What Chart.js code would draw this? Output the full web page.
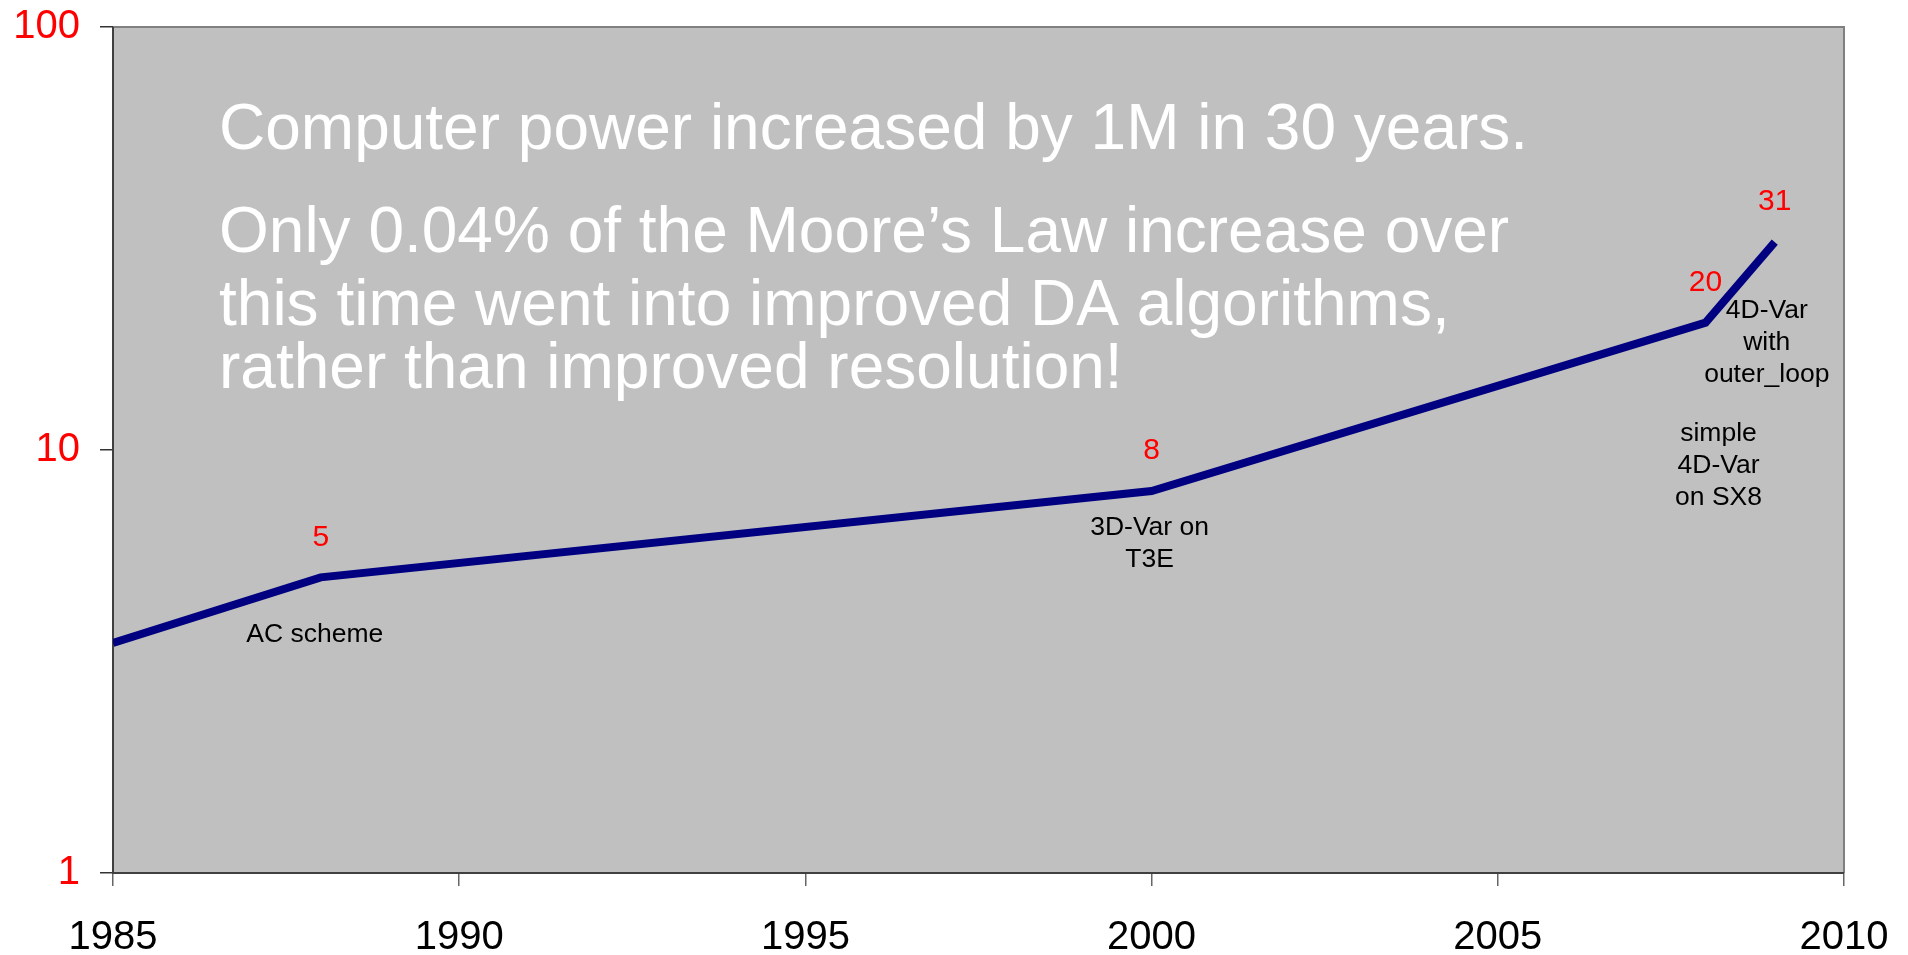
<!DOCTYPE html>
<html>
<head>
<meta charset="utf-8">
<script src="https://cdn.jsdelivr.net/npm/chart.js@4"></script>
<style>
  html, body { margin: 0; padding: 0; background: #fff; }
  canvas { display: block; }
</style>
</head>
<body>
<canvas id="chart" width="1908" height="955"></canvas>
<script>
const years = [1985, 1988, 2000, 2008, 2009]
const speedup = [3.5, 5, 8, 20, 31]
const xTicks = [1985, 1990, 1995, 2000, 2005, 2010]
const yTicks = [1, 10, 100]
const valueLabels = ['', '5', '8', '20', '31']
const pointNotes = [
  [],
  ['AC scheme'],
  ['3D-Var on', 'T3E'],
  ['simple', '4D-Var', 'on SX8'],
  ['4D-Var', 'with', 'outer_loop'],
]
const headline = [
  'Computer power increased by 1M in 30 years.',
  'Only 0.04% of the Moore\u2019s Law increase over',
  'this time went into improved DA algorithms,',
  'rather than improved resolution!',
]

const FONT = '"Liberation Sans", Arial, sans-serif'
// where each note sits relative to its point (dx, dy of first line)
const noteOffsets = [null, [-6, 57], [-2, 37], [13, 111], [-8, 69]]

const plotFrame = {
  id: 'plotFrame',
  beforeDatasetsDraw(chart) {
    const { ctx, chartArea: a } = chart
    ctx.save()
    ctx.fillStyle = '#c0c0c0'
    ctx.fillRect(a.left, a.top, a.right - a.left, a.bottom - a.top)
    ctx.lineWidth = 2
    ctx.strokeStyle = '#808080'
    ctx.beginPath()
    ctx.moveTo(a.left, a.top)
    ctx.lineTo(a.right, a.top)
    ctx.lineTo(a.right, a.bottom)
    ctx.stroke()
    ctx.strokeStyle = '#404040'
    ctx.beginPath()
    ctx.moveTo(a.left, a.top)
    ctx.lineTo(a.left, a.bottom)
    ctx.lineTo(a.right, a.bottom)
    ctx.stroke()

    // headline text
    ctx.fillStyle = '#ffffff'
    ctx.font = '64px ' + FONT
    ctx.textAlign = 'left'
    ctx.textBaseline = 'alphabetic'
    const baselines = [122, 225, 298, 361]
    headline.forEach((line, i) => {
      ctx.fillText(line, a.left + 106, a.top + baselines[i])
    })
    ctx.restore()
  },
  afterDatasetsDraw(chart) {
    const { ctx } = chart
    const pts = chart.getDatasetMeta(0).data
    ctx.save()
    ctx.textAlign = 'center'
    ctx.textBaseline = 'middle'
    pts.forEach((p, i) => {
      if (valueLabels[i]) {
        ctx.fillStyle = '#ff0000'
        ctx.font = '30px ' + FONT
        ctx.fillText(valueLabels[i], p.x, p.y - 40)
      }
      const off = noteOffsets[i]
      if (off) {
        ctx.fillStyle = '#000000'
        ctx.font = '26.5px ' + FONT
        pointNotes[i].forEach((t, j) => {
          ctx.fillText(t, p.x + off[0], p.y + off[1] + j * 32)
        })
      }
    })
    ctx.restore()
  },
}

new Chart(document.getElementById('chart'), {
  type: 'line',
  data: {
    datasets: [
      {
        data: years.map((y, i) => ({ x: y, y: speedup[i] })),
        borderColor: '#000080',
        borderWidth: 8,
        pointRadius: 0,
        tension: 0,
        fill: false,
      },
    ],
  },
  options: {
    responsive: false,
    devicePixelRatio: 1,
    animation: false,
    layout: { padding: { left: 0, top: 27, right: 64, bottom: 0 } },
    plugins: { legend: { display: false }, tooltip: { enabled: false } },
    scales: {
      x: {
        type: 'linear',
        min: 1985,
        max: 2010,
        afterBuildTicks: (s) => { s.ticks = xTicks.map((v) => ({ value: v })) },
        afterFit: (s) => {
          s.height = 82
          s.paddingLeft = 0
          s.paddingRight = 0
        },
        border: { display: false },
        grid: { drawOnChartArea: false, drawTicks: true, tickLength: 13, color: '#666666', lineWidth: 1.5 },
        ticks: {
          color: '#000000',
          font: { family: FONT, size: 40 },
          padding: 28,
          maxRotation: 0,
          callback: (v) => String(v),
        },
      },
      y: {
        type: 'logarithmic',
        min: 1,
        max: 100,
        afterBuildTicks: (s) => { s.ticks = yTicks.map((v) => ({ value: v })) },
        afterFit: (s) => {
          s.width = 113
          s.paddingTop = 0
          s.paddingBottom = 0
        },
        border: { display: false },
        grid: { drawOnChartArea: false, drawTicks: true, tickLength: 13, color: '#333333', lineWidth: 1.5 },
        ticks: {
          color: '#ff0000',
          font: { family: FONT, size: 40 },
          padding: 20,
          callback: (v) => String(v),
        },
      },
    },
  },
  plugins: [plotFrame],
})
</script>
</body>
</html>
